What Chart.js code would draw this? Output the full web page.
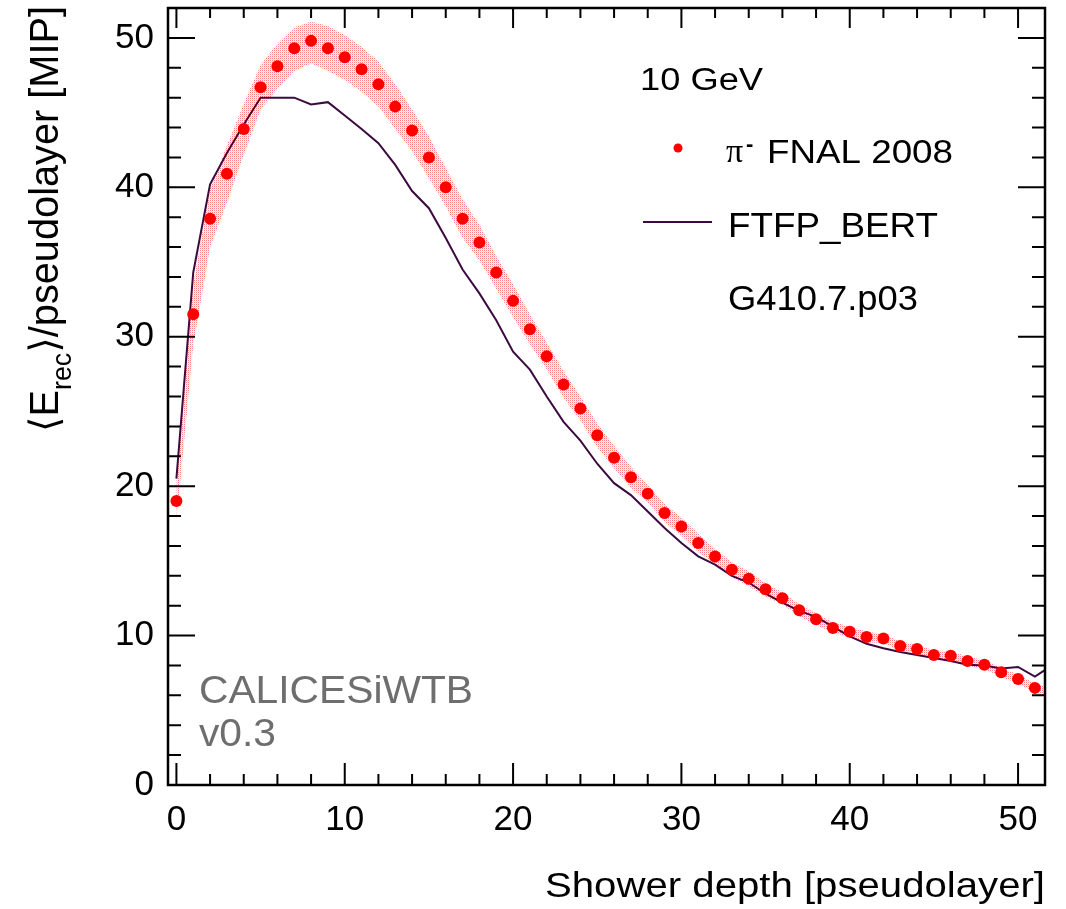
<!DOCTYPE html>
<html>
<head>
<meta charset="utf-8">
<script src="https://cdn.jsdelivr.net/npm/chart.js@4"></script>
<style>
  body { margin: 0; background: #fff; }
  #wrap { width: 1066px; height: 909px; }
</style>
</head>
<body>
<div id="wrap"><canvas id="myChart"></canvas></div>
<script>
// shower depth (pseudolayer) values
const dataLayers = [0,1,2,3,4,5,6,7,8,9,10,11,12,13,14,15,16,17,18,19,20,21,22,23,24,25,
    26,27,28,29,30,31,32,33,34,35,36,37,38,39,40,41,42,43,44,45,46,47,48,49,50,51];
// pi- FNAL 2008 data points
const dataValues = [19.0, 31.5, 37.9, 40.9, 43.9, 46.7, 48.1, 49.3, 49.8, 49.3, 48.7, 47.9, 46.9,
    45.4, 43.8, 42.0, 40.0, 37.9, 36.3, 34.3, 32.4, 30.5, 28.7, 26.8, 25.2, 23.4, 21.9, 20.6,
    19.5, 18.2, 17.3, 16.2, 15.3, 14.4, 13.8, 13.1, 12.5, 11.7, 11.1, 10.5, 10.25, 9.9, 9.8,
    9.3, 9.1, 8.7, 8.65, 8.3, 8.05, 7.55, 7.1, 6.5];
// systematic band around the data
const bandLayers = [0,1,2,3,4,5,6,7,8,9,10,11,12,13,14,15,16,17,18,19,20,21,22,23,24,25,
    26,27,28,29,30,31,32,33,34,35,36,37,38,39,40,41,42,43,44,45,46,47,48,49,50,51,52];
const bandUpper = [20.4, 33.5, 39.9, 42.8, 45.6, 48.2, 49.6, 50.7, 51.1, 50.8, 50.2, 49.4, 48.4,
    46.9, 45.2, 43.4, 41.3, 39.2, 37.5, 35.4, 33.5, 31.5, 29.6, 27.7, 26.0, 24.2, 22.7, 21.3,
    20.1, 18.8, 17.9, 16.8, 15.8, 14.9, 14.3, 13.5, 12.9, 12.1, 11.5, 10.9, 10.6, 10.25, 10.1,
    9.6, 9.4, 9.0, 8.95, 8.6, 8.35, 7.85, 7.4, 6.8, 6.5];
const bandLower = [17.6, 29.5, 36.0, 39.0, 42.2, 45.2, 46.6, 47.8, 48.3, 47.8, 47.2, 46.4, 45.4,
    43.9, 42.4, 40.6, 38.7, 36.6, 35.1, 33.2, 31.3, 29.5, 27.8, 25.9, 24.4, 22.6, 21.2, 19.9,
    18.9, 17.6, 16.7, 15.6, 14.8, 13.9, 13.3, 12.6, 12.1, 11.3, 10.7, 10.2, 9.9, 9.55, 9.5,
    9.0, 8.8, 8.4, 8.35, 8.0, 7.75, 7.25, 6.8, 6.2, 5.7];
// FTFP_BERT simulation
const simLayers = bandLayers;
const simValues = [20.5, 34.3, 40.2, 42.3, 44.2, 46.0, 46.0, 46.0, 45.55, 45.7, 44.8, 43.9, 42.95,
    41.5, 39.75, 38.6, 36.6, 34.5, 32.9, 31.1, 29.0, 27.8, 26.0, 24.3, 23.05, 21.5, 20.2, 19.4,
    18.3, 17.2, 16.2, 15.3, 14.75, 14.0, 13.55, 12.8, 12.2, 11.65, 11.25, 10.6, 9.95, 9.45, 9.15,
    8.9, 8.7, 8.5, 8.3, 8.05, 8.0, 7.8, 7.9, 7.25, 8.0];

const xMajor = [0, 10, 20, 30, 40, 50];
const yMajor = [0, 10, 20, 30, 40, 50];

const toXY = (xs, ys) => ys.map((y, i) => ({ x: xs[i], y: y }));

// dotted red fill like the ROOT hatch style
function makePattern() {
    const c = document.createElement('canvas');
    c.width = 2; c.height = 2;
    const g = c.getContext('2d');
    g.fillStyle = 'rgba(255,0,0,0.5)';
    g.fillRect(0, 0, 1, 1);
    g.fillStyle = 'rgba(255,0,0,0.12)';
    g.fillRect(1, 1, 1, 1);
    return g.createPattern(c, 'repeat');
}

// text squeezed/stretched to a given width
function fitText(ctx, str, x, y, font, width, align) {
    ctx.font = font;
    const w = ctx.measureText(str).width;
    const k = width / w;
    ctx.save();
    ctx.translate(align === 'right' ? x - width : x, y);
    ctx.scale(k, 1);
    ctx.textAlign = 'left';
    ctx.fillText(str, 0, 0);
    ctx.restore();
}

const framePlugin = {
    id: 'framePlugin',
    afterDraw(chart) {
        const ctx = chart.ctx;
        const xs = chart.scales.x, ys = chart.scales.y;
        const { left, right, top, bottom } = chart.chartArea;
        ctx.save();
        ctx.strokeStyle = '#000';
        ctx.lineWidth = 2;
        ctx.beginPath();
        for (let v = 0; v <= 51; v += 2) {
            const major = xMajor.includes(v);
            const px = xs.getPixelForValue(v);
            ctx.moveTo(px, bottom); ctx.lineTo(px, bottom - (major ? 22 : 11));
            ctx.moveTo(px, top); ctx.lineTo(px, top + (major ? 20 : 10));
        }
        for (let v = 0; v <= 52; v += 2) {
            const major = yMajor.includes(v);
            const py = ys.getPixelForValue(v);
            ctx.moveTo(left, py); ctx.lineTo(left + (major ? 27 : 13), py);
            ctx.moveTo(right, py); ctx.lineTo(right - (major ? 27 : 13), py);
        }
        ctx.stroke();
        ctx.lineWidth = 2.5;
        ctx.strokeRect(left, top, right - left, bottom - top);

        ctx.fillStyle = '#000';
        ctx.textBaseline = 'alphabetic';
        // x axis title
        fitText(ctx, 'Shower depth [pseudolayer]', right, 897, '35px "Liberation Sans"', 500, 'right');

        // y axis title, rotated
        ctx.save();
        ctx.translate(58, 432);
        ctx.rotate(-Math.PI / 2);
        const big = '40px "Liberation Sans"', small = '27px "Liberation Sans"';
        const parts = [
            { t: '\u27E8', f: '40px "DejaVu Sans"', dy: 0 },
            { t: 'E', f: big, dy: 0 },
            { t: 'rec', f: small, dy: 13 },
            { t: '\u27E9', f: '40px "DejaVu Sans"', dy: 0 },
            { t: '/pseudolayer [MIP]', f: big, dy: 0 }
        ];
        let total = 0;
        parts.forEach(p => { ctx.font = p.f; p.w = ctx.measureText(p.t).width; total += p.w; });
        ctx.scale(426 / total, 1);
        let cx = 0;
        parts.forEach(p => { ctx.font = p.f; ctx.fillText(p.t, cx, p.dy); cx += p.w; });
        ctx.restore();

        // legend block
        fitText(ctx, '10 GeV', 640, 90, '31px "Liberation Sans"', 123);
        ctx.fillStyle = '#ff0000';
        ctx.beginPath(); ctx.arc(678, 148, 4.5, 0, Math.PI * 2); ctx.fill();
        ctx.fillStyle = '#000';
        ctx.font = '34px "Liberation Serif"';
        ctx.fillText('\u03C0', 726, 162);
        ctx.font = 'bold 22px "Liberation Sans"';
        ctx.fillText('-', 746, 151);
        fitText(ctx, 'FNAL 2008', 767, 163, '33px "Liberation Sans"', 186);
        ctx.strokeStyle = '#3b0b3f';
        ctx.lineWidth = 2;
        ctx.beginPath(); ctx.moveTo(643, 222); ctx.lineTo(712, 222); ctx.stroke();
        fitText(ctx, 'FTFP_BERT', 728, 237, '35px "Liberation Sans"', 210);
        fitText(ctx, 'G410.7.p03', 728, 310, '35px "Liberation Sans"', 190);

        // software label
        ctx.fillStyle = '#6e6e6e';
        fitText(ctx, 'CALICESiWTB', 199, 703, '39px "Liberation Sans"', 274);
        fitText(ctx, 'v0.3', 199, 746, '39px "Liberation Sans"', 77);
        ctx.restore();
    }
};

const tickFont = { family: 'Liberation Sans', size: 35 };

const config = {
    type: 'line',
    data: {
        datasets: [
            {
                label: 'pi- FNAL 2008',
                data: toXY(dataLayers, dataValues),
                showLine: false,
                pointRadius: 6,
                pointBorderWidth: 0,
                pointBackgroundColor: '#ff0000',
                pointBorderColor: '#ff0000'
            },
            {
                label: 'FTFP_BERT',
                data: toXY(simLayers, simValues),
                borderColor: '#3b0b3f',
                borderWidth: 2,
                pointRadius: 0,
                tension: 0,
                fill: false
            },
            {
                label: 'band low',
                data: toXY(bandLayers, bandLower),
                borderWidth: 0,
                borderColor: 'rgba(0,0,0,0)',
                pointRadius: 0,
                fill: false
            },
            {
                label: 'band high',
                data: toXY(bandLayers, bandUpper),
                borderWidth: 0,
                borderColor: 'rgba(0,0,0,0)',
                backgroundColor: makePattern(),
                pointRadius: 0,
                fill: '-1'
            }
        ]
    },
    options: {
        responsive: true,
        maintainAspectRatio: false,
        animation: false,
        layout: { padding: { left: 0, right: 21, top: 8, bottom: 0 } },
        plugins: { legend: { display: false }, tooltip: { enabled: false } },
        scales: {
            x: {
                type: 'linear',
                min: -0.5,
                max: 51.6,
                grid: { display: false },
                border: { display: false },
                ticks: { font: tickFont, color: '#000', padding: 6, maxRotation: 0, autoSkip: false },
                afterBuildTicks: s => { s.ticks = xMajor.map(v => ({ value: v })); },
                afterFit: s => { s.height = 124; s.paddingLeft = 0; s.paddingRight = 0; }
            },
            y: {
                type: 'linear',
                min: 0,
                max: 52,
                grid: { display: false },
                border: { display: false },
                ticks: { font: tickFont, color: '#000', padding: 6, autoSkip: false },
                afterBuildTicks: s => { s.ticks = yMajor.map(v => ({ value: v })); },
                afterFit: s => { s.width = 168; s.paddingTop = 0; s.paddingBottom = 0; }
            }
        }
    },
    plugins: [framePlugin]
};

document.addEventListener('DOMContentLoaded', () => {
    new Chart(document.getElementById('myChart'), config);
});
</script>
</body>
</html>
